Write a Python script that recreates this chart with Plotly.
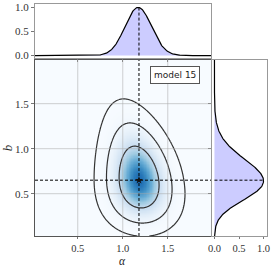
import numpy as np
import plotly.graph_objects as go

# ---- values ----
label_text = "model 15"
x_title = "α"
y_title = "b"
alpha_best = 1.18
b_best = 0.65
alpha_range = [0.025, 1.98]
b_range = [0.03, 1.985]
marg_range = [-0.05, 1.07]
main_ticks = [0.5, 1.0, 1.5]
main_ticktext = ["0.5", "1.0", "1.5"]
marg_ticks = [0.0, 0.5, 1.0]
marg_ticktext = ["0.0", "0.5", "1.0"]
sigma_alpha = 0.145
alpha_width_slope = 0.15
alpha_tilt_lin = 0.08
alpha_tilt_quad = 0.12
sigma_b_low = 0.225
sigma_b_low_slope = 0.07
sigma_b_high = 0.24
sigma_b_high_slope = 0.025
delta_chi2_levels = [2.30, 6.18, 11.83]

W, H = 274, 268

# ---- build the surface ----
a = np.linspace(alpha_range[0], alpha_range[1], 300)
b = np.linspace(b_range[0], b_range[1], 300)
A, B = np.meshgrid(a, b)
d = B - b_best
mu = alpha_best - alpha_tilt_lin * d - alpha_tilt_quad * np.clip(d, 0, None) ** 2
sa = sigma_alpha * (1 - alpha_width_slope * d)
sb = np.where(d < 0, sigma_b_low - sigma_b_low_slope * np.abs(d),
              sigma_b_high + sigma_b_high_slope * d)
chi2 = ((A - mu) / sa) ** 2 + (d / sb) ** 2
P = np.exp(-0.5 * chi2)
marg_a = P.sum(axis=0)
marg_a = marg_a / marg_a.max()
marg_b = P.sum(axis=1)
marg_b = marg_b / marg_b.max()
peak_a = float(np.interp(alpha_best, a, marg_a))
peak_b = float(np.interp(b_best, b, marg_b))


def px_x(p):
    return p / W


def px_y(p):
    return 1 - p / H


fig = go.Figure()
fig.add_trace(go.Heatmap(x=a, y=b, z=P, colorscale="Blues", zmin=0, zmax=1.3,
                         showscale=False, xaxis="x", yaxis="y", hoverinfo="skip"))
for lev in delta_chi2_levels:
    fig.add_trace(go.Contour(x=a, y=b, z=chi2, xaxis="x", yaxis="y", showscale=False,
                             contours=dict(start=lev, end=lev, size=1, coloring="none"),
                             line=dict(color="#333333", width=1.2), hoverinfo="skip"))
dash = dict(color="black", width=1, dash="3px,2px")
fig.add_trace(go.Scatter(x=[alpha_best, alpha_best], y=b_range, mode="lines", line=dash,
                         xaxis="x", yaxis="y"))
fig.add_trace(go.Scatter(x=alpha_range, y=[b_best, b_best], mode="lines", line=dash,
                         xaxis="x", yaxis="y"))
fig.add_trace(go.Scatter(x=[alpha_best], y=[b_best], mode="markers",
                         marker=dict(symbol="star", size=6, color="#111"),
                         xaxis="x", yaxis="y"))
# top marginal
fig.add_trace(go.Scatter(x=a, y=marg_a, mode="lines", fill="tozeroy", fillcolor="#ccccff",
                         line=dict(color="black", width=1.2), xaxis="x2", yaxis="y2"))
fig.add_trace(go.Scatter(x=[alpha_best, alpha_best], y=[0, peak_a], mode="lines", line=dash,
                         xaxis="x2", yaxis="y2"))
# right marginal
fig.add_trace(go.Scatter(x=marg_b, y=b, mode="lines", fill="tozerox", fillcolor="#ccccff",
                         line=dict(color="black", width=1.2), xaxis="x3", yaxis="y3"))
fig.add_trace(go.Scatter(x=[0, peak_b], y=[b_best, b_best], mode="lines", line=dash,
                         xaxis="x3", yaxis="y3"))

tickfont = dict(family="Liberation Serif", size=11, color="#333")
xtickfont = dict(family="Liberation Serif", size=10.5, color="#333")
titlefont = dict(family="Liberation Serif", size=13, color="#222", style="italic")
common = dict(showline=True, mirror=True, ticks="outside", tickcolor="#777",
              showgrid=False, zeroline=False, automargin=False)

main_x = [px_x(35), px_x(211)]
main_y = [px_y(236), px_y(60)]

fig.update_layout(
    width=W, height=H, margin=dict(l=0, r=0, t=0, b=0),
    paper_bgcolor="white", plot_bgcolor="white", showlegend=False,
    template="none",
    xaxis=dict(domain=main_x, range=alpha_range, anchor="y", tickvals=main_ticks,
               ticktext=main_ticktext, linecolor="#555", linewidth=1.3,
               ticklen=2, tickfont=xtickfont, **common),
    yaxis=dict(domain=main_y, range=b_range, anchor="x", tickvals=main_ticks,
               ticktext=main_ticktext, linecolor="#555", linewidth=1.3,
               ticklen=3, tickfont=tickfont,
               title=dict(text=y_title, font=titlefont, standoff=4), **common),
    xaxis2=dict(domain=main_x, range=alpha_range, anchor="y2", tickvals=main_ticks,
                showticklabels=False, linecolor="#999", linewidth=1, ticklen=3,
                **common),
    yaxis2=dict(domain=[px_y(58), px_y(4)], range=marg_range, anchor="x2",
                tickvals=marg_ticks, ticktext=marg_ticktext, linecolor="#999",
                linewidth=1, ticklen=3, tickfont=tickfont, **common),
    xaxis3=dict(domain=[px_x(212), px_x(267)], range=marg_range, anchor="y3",
                tickvals=marg_ticks, ticktext=marg_ticktext, linecolor="#999",
                linewidth=1, ticklen=2, tickfont=xtickfont, **common),
    yaxis3=dict(domain=main_y, range=b_range, anchor="x3", tickvals=main_ticks,
                showticklabels=False, linecolor="#999", linewidth=1, ticklen=3,
                **common),
)

shapes = []
for t in main_ticks:
    shapes.append(dict(type="line", xref="x", yref="y", x0=t, x1=t, y0=b_range[0],
                       y1=b_range[1], layer="above",
                       line=dict(color="rgba(170,170,170,0.55)", width=1)))
    shapes.append(dict(type="line", xref="x", yref="y", x0=alpha_range[0],
                       x1=alpha_range[1], y0=t, y1=t, layer="above",
                       line=dict(color="rgba(170,170,170,0.55)", width=1)))
fig.update_layout(shapes=shapes)

fig.add_annotation(text=x_title, xref="paper", yref="paper", x=px_x(122.3),
                   y=0, xanchor="center", yanchor="bottom", showarrow=False,
                   borderpad=0, font=dict(family="Liberation Serif", size=11.5,
                                          color="#222", style="italic"))
fig.add_annotation(text=label_text, xref="paper", yref="paper", x=px_x(175.4),
                   y=px_y(75), xanchor="center", yanchor="middle", showarrow=False,
                   font=dict(family="DejaVu Sans", size=9, color="#222"),
                   bgcolor="white", bordercolor="#555", borderwidth=1, borderpad=3)

fig.write_html("out.html", config={"displayModeBar": False},
               post_script="document.body.style.margin='0';document.body.style.overflow='hidden';")
